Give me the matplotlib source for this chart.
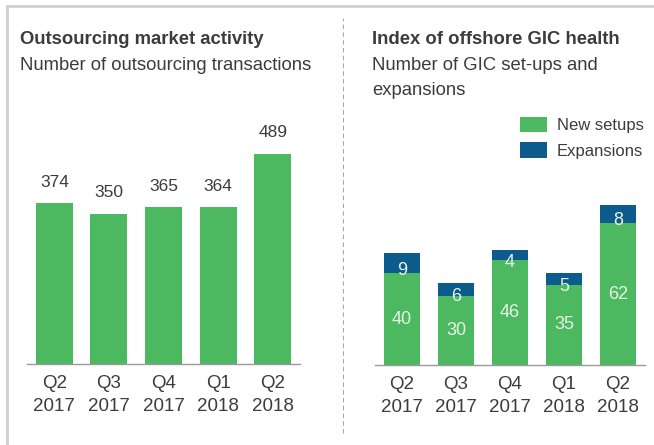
import matplotlib
matplotlib.use("Agg")
import matplotlib.pyplot as plt
from matplotlib.lines import Line2D
import numpy as np

# Quarterly data
quarters = ["Q2\n2017", "Q3\n2017", "Q4\n2017", "Q1\n2018", "Q2\n2018"]
outsourcing_deals = [374, 350, 365, 364, 489]
gic_new_setups = [40, 30, 46, 35, 62]
gic_expansions = [9, 6, 4, 5, 8]

GREEN = "#4cb85f"
BLUE = "#0d5a8c"
TEXT = "#3c3c3c"
INNER = "#e6f4e6"
FONT = ["Liberation Sans", "DejaVu Sans"]

plt.rcParams["font.family"] = FONT

W, H = 654, 445
fig = plt.figure(figsize=(W / 100, H / 100), dpi=100)
fig.patch.set_facecolor("white")


def px_axes(x0, x1, y_top, y_base):
    """Create axes from pixel coordinates (y measured from the top)."""
    return fig.add_axes([x0 / W, (H - y_base) / H, (x1 - x0) / W, (y_base - y_top) / H])


def style(ax, ymax):
    ax.set_xlim(-0.5, 4.5)
    ax.set_ylim(0, ymax)
    for s in ("top", "right", "left"):
        ax.spines[s].set_visible(False)
    ax.spines["bottom"].set_color("#9a9a9a")
    ax.spines["bottom"].set_linewidth(1.0)
    ax.set_yticks([])
    ax.set_xticks(np.arange(len(quarters)))
    ax.set_xticklabels(quarters, fontsize=13.5, color=TEXT, linespacing=1.45)
    ax.tick_params(axis="x", length=0, pad=8)
    ax.patch.set_alpha(0)


x = np.arange(len(quarters))

# Left panel: outsourcing transactions
ax1 = px_axes(27, 300, 364 - 0.43 * 560, 364)
style(ax1, 560)
bars = ax1.bar(x, outsourcing_deals, width=0.675, color=GREEN)
for rect, v in zip(bars, outsourcing_deals):
    ax1.annotate(str(v), (rect.get_x() + rect.get_width() / 2, v),
                 xytext=(0, 15), textcoords="offset points",
                 ha="center", va="center", fontsize=12.5, color=TEXT)

# Right panel: GIC set-ups and expansions
ax2 = px_axes(375, 645, 365 - 2.29 * 100, 365)
style(ax2, 100)
b_new = ax2.bar(x, gic_new_setups, width=0.67, color=GREEN, label="New setups")
b_exp = ax2.bar(x, gic_expansions, width=0.67, bottom=gic_new_setups,
                color=BLUE, label="Expansions")
for xi, n, e in zip(x, gic_new_setups, gic_expansions):
    ax2.text(xi, n / 2, str(n), ha="center", va="center", fontsize=13, color=INNER)
    ax2.annotate(str(e), (xi, n + e / 2), xytext=(0, -5), textcoords="offset points",
                 ha="center", va="center", fontsize=13, color=INNER)

fig.legend(handles=[b_new, b_exp], loc="upper left",
           bbox_to_anchor=(508 / W, 1 - 105 / H), frameon=False,
           fontsize=12, handlelength=1.62, handleheight=1.05,
           handletextpad=0.6, labelspacing=0.55, borderpad=0.2,
           labelcolor=TEXT)

# Titles
fig.text(20 / W, 1 - 39 / H, "Outsourcing market activity", fontsize=13.3,
         fontweight="bold", color=TEXT, va="center", ha="left")
fig.text(20 / W, 1 - 65 / H, "Number of outsourcing transactions", fontsize=13.3,
         color=TEXT, va="center", ha="left")
fig.text(372 / W, 1 - 39 / H, "Index of offshore GIC health", fontsize=13.3,
         fontweight="bold", color=TEXT, va="center", ha="left")
fig.text(372 / W, 1 - 78 / H, "Number of GIC set-ups and\nexpansions", fontsize=13.3,
         color=TEXT, va="center", ha="left", linespacing=1.55)

# Frame lines and panel divider
fig.add_artist(Line2D([7 / W, 1], [1 - 6 / H, 1 - 6 / H], color="#cfcfcf", lw=2,
                      transform=fig.transFigure))
fig.add_artist(Line2D([7 / W, 7 / W], [0, 1 - 6 / H], color="#cfcfcf", lw=2,
                      transform=fig.transFigure))
fig.add_artist(Line2D([343 / W, 343 / W], [1 - 433 / H, 1 - 18 / H], color="#a8a8a8",
                      lw=0.8, linestyle=(0, (4, 3)), transform=fig.transFigure))

fig.savefig("out.png", dpi=100, facecolor="white")
